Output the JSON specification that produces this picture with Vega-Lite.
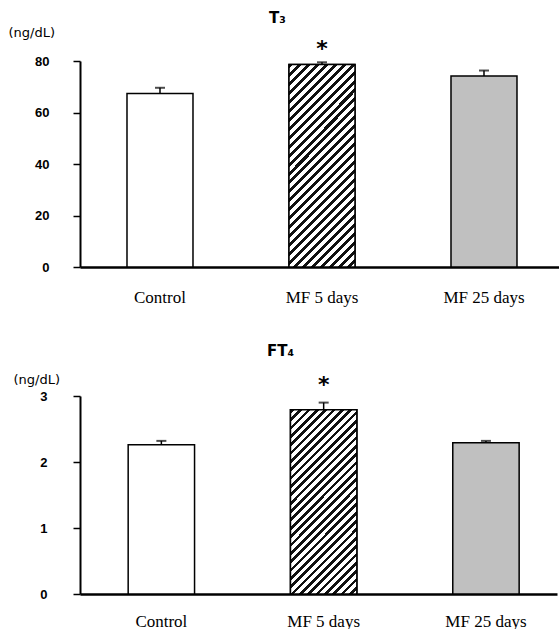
{
  "$schema": "https://vega.github.io/schema/vega-lite/v6.json",
  "padding": {"left": 8, "top": 11, "right": 0, "bottom": 0},
  "background": "white",
  "config": {"view": {"stroke": null}, "axis": {"grid": false}},
  "bounds": "flush",
  "spacing": 129,
  "vconcat": [
    {
      "width": 479,
      "height": 206,
      "title": {"text": "T₃", "font": "DejaVu Sans", "fontSize": 15, "fontWeight": "bold", "anchor": "middle", "dx": -42, "offset": 0, "color": "black"},
      "data": {"values": [
        {"group": "Control", "mean": 67.4, "upper": 69.6, "sig": ""},
        {"group": "MF 5 days", "mean": 78.6, "upper": 79.5, "sig": "*"},
        {"group": "MF 25 days", "mean": 74.2, "upper": 76.3, "sig": ""}
      ]},
      "encoding": {
        "x": {"field": "group", "type": "nominal", "sort": null,
          "scale": {"paddingInner": 0.5926, "paddingOuter": 0.2747, "align": 0.528},
          "axis": {"title": null, "labelAngle": 0, "ticks": false, "domainWidth": 2.5, "domainColor": "black", "labelFont": "Liberation Serif", "labelFontSize": 17, "labelColor": "black", "labelPadding": 22}}
      },
      "layer": [
        {
          "mark": {"type": "bar", "stroke": "black", "strokeWidth": 1.5},
          "encoding": {
            "y": {"field": "mean", "type": "quantitative", "scale": {"domain": [0, 80], "nice": false},
              "axis": {"title": "(ng/dL)", "titleAngle": 0, "titleAlign": "left", "titleBaseline": "middle", "titleX": -72, "titleY": -29, "titleFont": "DejaVu Sans", "titleFontSize": 13, "titleFontWeight": "normal", "titleColor": "black", "values": [0, 20, 40, 60, 80], "format": "d", "tickSize": 7, "tickWidth": 1.5, "tickColor": "black", "domainColor": "black", "domainWidth": 2, "labelFont": "Liberation Sans", "labelFontSize": 13, "labelFontWeight": "bold", "labelPadding": 24, "labelColor": "black"}},
            "fill": {"field": "group", "type": "nominal", "scale": {"domain": ["Control", "MF 5 days", "MF 25 days"], "range": ["white", "white", "#c0c0c0"]}, "legend": null}
          }
        },
        {
          "transform": [{"filter": "datum.group == 'MF 5 days'"}],
          "mark": {"type": "bar", "stroke": "black", "strokeWidth": 1.5,
            "fill": {"gradient": "linear", "x1": 0, "y1": 0, "x2": 0.3917, "y2": 1.1988, "stops": [
              {"offset": 0, "color": "#111"}, {"offset": 0.015, "color": "#111"}, {"offset": 0.015, "color": "white"}, {"offset": 0.0333, "color": "white"},
              {"offset": 0.0333, "color": "#111"}, {"offset": 0.0483, "color": "#111"}, {"offset": 0.0483, "color": "white"}, {"offset": 0.0667, "color": "white"},
              {"offset": 0.0667, "color": "#111"}, {"offset": 0.0817, "color": "#111"}, {"offset": 0.0817, "color": "white"}, {"offset": 0.1, "color": "white"},
              {"offset": 0.1, "color": "#111"}, {"offset": 0.115, "color": "#111"}, {"offset": 0.115, "color": "white"}, {"offset": 0.1333, "color": "white"},
              {"offset": 0.1333, "color": "#111"}, {"offset": 0.1483, "color": "#111"}, {"offset": 0.1483, "color": "white"}, {"offset": 0.1667, "color": "white"},
              {"offset": 0.1667, "color": "#111"}, {"offset": 0.1817, "color": "#111"}, {"offset": 0.1817, "color": "white"}, {"offset": 0.2, "color": "white"},
              {"offset": 0.2, "color": "#111"}, {"offset": 0.215, "color": "#111"}, {"offset": 0.215, "color": "white"}, {"offset": 0.2333, "color": "white"},
              {"offset": 0.2333, "color": "#111"}, {"offset": 0.2483, "color": "#111"}, {"offset": 0.2483, "color": "white"}, {"offset": 0.2667, "color": "white"},
              {"offset": 0.2667, "color": "#111"}, {"offset": 0.2817, "color": "#111"}, {"offset": 0.2817, "color": "white"}, {"offset": 0.3, "color": "white"},
              {"offset": 0.3, "color": "#111"}, {"offset": 0.315, "color": "#111"}, {"offset": 0.315, "color": "white"}, {"offset": 0.3333, "color": "white"},
              {"offset": 0.3333, "color": "#111"}, {"offset": 0.3483, "color": "#111"}, {"offset": 0.3483, "color": "white"}, {"offset": 0.3667, "color": "white"},
              {"offset": 0.3667, "color": "#111"}, {"offset": 0.3817, "color": "#111"}, {"offset": 0.3817, "color": "white"}, {"offset": 0.4, "color": "white"},
              {"offset": 0.4, "color": "#111"}, {"offset": 0.415, "color": "#111"}, {"offset": 0.415, "color": "white"}, {"offset": 0.4333, "color": "white"},
              {"offset": 0.4333, "color": "#111"}, {"offset": 0.4483, "color": "#111"}, {"offset": 0.4483, "color": "white"}, {"offset": 0.4667, "color": "white"},
              {"offset": 0.4667, "color": "#111"}, {"offset": 0.4817, "color": "#111"}, {"offset": 0.4817, "color": "white"}, {"offset": 0.5, "color": "white"},
              {"offset": 0.5, "color": "#111"}, {"offset": 0.515, "color": "#111"}, {"offset": 0.515, "color": "white"}, {"offset": 0.5333, "color": "white"},
              {"offset": 0.5333, "color": "#111"}, {"offset": 0.5483, "color": "#111"}, {"offset": 0.5483, "color": "white"}, {"offset": 0.5667, "color": "white"},
              {"offset": 0.5667, "color": "#111"}, {"offset": 0.5817, "color": "#111"}, {"offset": 0.5817, "color": "white"}, {"offset": 0.6, "color": "white"},
              {"offset": 0.6, "color": "#111"}, {"offset": 0.615, "color": "#111"}, {"offset": 0.615, "color": "white"}, {"offset": 0.6333, "color": "white"},
              {"offset": 0.6333, "color": "#111"}, {"offset": 0.6483, "color": "#111"}, {"offset": 0.6483, "color": "white"}, {"offset": 0.6667, "color": "white"},
              {"offset": 0.6667, "color": "#111"}, {"offset": 0.6817, "color": "#111"}, {"offset": 0.6817, "color": "white"}, {"offset": 0.7, "color": "white"},
              {"offset": 0.7, "color": "#111"}, {"offset": 0.715, "color": "#111"}, {"offset": 0.715, "color": "white"}, {"offset": 0.7333, "color": "white"},
              {"offset": 0.7333, "color": "#111"}, {"offset": 0.7483, "color": "#111"}, {"offset": 0.7483, "color": "white"}, {"offset": 0.7667, "color": "white"},
              {"offset": 0.7667, "color": "#111"}, {"offset": 0.7817, "color": "#111"}, {"offset": 0.7817, "color": "white"}, {"offset": 0.8, "color": "white"},
              {"offset": 0.8, "color": "#111"}, {"offset": 0.815, "color": "#111"}, {"offset": 0.815, "color": "white"}, {"offset": 0.8333, "color": "white"},
              {"offset": 0.8333, "color": "#111"}, {"offset": 0.8483, "color": "#111"}, {"offset": 0.8483, "color": "white"}, {"offset": 0.8667, "color": "white"},
              {"offset": 0.8667, "color": "#111"}, {"offset": 0.8817, "color": "#111"}, {"offset": 0.8817, "color": "white"}, {"offset": 0.9, "color": "white"},
              {"offset": 0.9, "color": "#111"}, {"offset": 0.915, "color": "#111"}, {"offset": 0.915, "color": "white"}, {"offset": 0.9333, "color": "white"},
              {"offset": 0.9333, "color": "#111"}, {"offset": 0.9483, "color": "#111"}, {"offset": 0.9483, "color": "white"}, {"offset": 0.9667, "color": "white"},
              {"offset": 0.9667, "color": "#111"}, {"offset": 0.9817, "color": "#111"}, {"offset": 0.9817, "color": "white"}, {"offset": 1, "color": "white"}
            ]}},
          "encoding": {"y": {"field": "mean", "type": "quantitative"}}
        },
        {
          "mark": {"type": "rule", "color": "black", "strokeWidth": 1.5},
          "encoding": {"y": {"field": "mean", "type": "quantitative"}, "y2": {"field": "upper"}}
        },
        {
          "mark": {"type": "tick", "color": "black", "size": 10, "thickness": 2},
          "encoding": {"y": {"field": "upper", "type": "quantitative"}}
        },
        {
          "transform": [{"filter": "datum.sig != ''"}],
          "mark": {"type": "text", "font": "DejaVu Sans", "fontSize": 22, "fontWeight": "bold", "baseline": "middle", "dy": -13, "color": "black"},
          "encoding": {"y": {"field": "upper", "type": "quantitative"}, "text": {"field": "sig"}}
        }
      ]
    },
    {
      "width": 477,
      "height": 198,
      "title": {"text": "FT₄", "font": "DejaVu Sans", "fontSize": 15, "fontWeight": "bold", "anchor": "middle", "dx": -38, "offset": 14, "color": "black"},
      "data": {"values": [
        {"group": "Control", "mean": 2.26, "upper": 2.32, "sig": ""},
        {"group": "MF 5 days", "mean": 2.79, "upper": 2.9, "sig": "*"},
        {"group": "MF 25 days", "mean": 2.29, "upper": 2.32, "sig": ""}
      ]},
      "encoding": {
        "x": {"field": "group", "type": "nominal", "sort": null,
          "scale": {"paddingInner": 0.591, "paddingOuter": 0.265, "align": 0.56},
          "axis": {"title": null, "labelAngle": 0, "ticks": false, "domainWidth": 2.5, "domainColor": "black", "labelFont": "Liberation Serif", "labelFontSize": 17, "labelColor": "black", "labelPadding": 19}}
      },
      "layer": [
        {
          "mark": {"type": "bar", "stroke": "black", "strokeWidth": 1.5},
          "encoding": {
            "y": {"field": "mean", "type": "quantitative", "scale": {"domain": [0, 3], "nice": false},
              "axis": {"title": "(ng/dL)", "titleAngle": 0, "titleAlign": "left", "titleBaseline": "middle", "titleX": -67, "titleY": -17, "titleFont": "DejaVu Sans", "titleFontSize": 13, "titleFontWeight": "normal", "titleColor": "black", "values": [0, 1, 2, 3], "format": "d", "tickSize": 7, "tickWidth": 1.5, "tickColor": "black", "domainColor": "black", "domainWidth": 2, "labelFont": "Liberation Sans", "labelFontSize": 13, "labelFontWeight": "bold", "labelPadding": 26, "labelColor": "black"}},
            "fill": {"field": "group", "type": "nominal", "scale": {"domain": ["Control", "MF 5 days", "MF 25 days"], "range": ["white", "white", "#c0c0c0"]}, "legend": null}
          }
        },
        {
          "transform": [{"filter": "datum.group == 'MF 5 days'"}],
          "mark": {"type": "bar", "stroke": "black", "strokeWidth": 1.5,
            "fill": {"gradient": "linear", "x1": 0, "y1": 0, "x2": 0.4352, "y2": 1.2041, "stops": [
              {"offset": 0, "color": "#111"}, {"offset": 0.015, "color": "#111"}, {"offset": 0.015, "color": "white"}, {"offset": 0.0333, "color": "white"},
              {"offset": 0.0333, "color": "#111"}, {"offset": 0.0483, "color": "#111"}, {"offset": 0.0483, "color": "white"}, {"offset": 0.0667, "color": "white"},
              {"offset": 0.0667, "color": "#111"}, {"offset": 0.0817, "color": "#111"}, {"offset": 0.0817, "color": "white"}, {"offset": 0.1, "color": "white"},
              {"offset": 0.1, "color": "#111"}, {"offset": 0.115, "color": "#111"}, {"offset": 0.115, "color": "white"}, {"offset": 0.1333, "color": "white"},
              {"offset": 0.1333, "color": "#111"}, {"offset": 0.1483, "color": "#111"}, {"offset": 0.1483, "color": "white"}, {"offset": 0.1667, "color": "white"},
              {"offset": 0.1667, "color": "#111"}, {"offset": 0.1817, "color": "#111"}, {"offset": 0.1817, "color": "white"}, {"offset": 0.2, "color": "white"},
              {"offset": 0.2, "color": "#111"}, {"offset": 0.215, "color": "#111"}, {"offset": 0.215, "color": "white"}, {"offset": 0.2333, "color": "white"},
              {"offset": 0.2333, "color": "#111"}, {"offset": 0.2483, "color": "#111"}, {"offset": 0.2483, "color": "white"}, {"offset": 0.2667, "color": "white"},
              {"offset": 0.2667, "color": "#111"}, {"offset": 0.2817, "color": "#111"}, {"offset": 0.2817, "color": "white"}, {"offset": 0.3, "color": "white"},
              {"offset": 0.3, "color": "#111"}, {"offset": 0.315, "color": "#111"}, {"offset": 0.315, "color": "white"}, {"offset": 0.3333, "color": "white"},
              {"offset": 0.3333, "color": "#111"}, {"offset": 0.3483, "color": "#111"}, {"offset": 0.3483, "color": "white"}, {"offset": 0.3667, "color": "white"},
              {"offset": 0.3667, "color": "#111"}, {"offset": 0.3817, "color": "#111"}, {"offset": 0.3817, "color": "white"}, {"offset": 0.4, "color": "white"},
              {"offset": 0.4, "color": "#111"}, {"offset": 0.415, "color": "#111"}, {"offset": 0.415, "color": "white"}, {"offset": 0.4333, "color": "white"},
              {"offset": 0.4333, "color": "#111"}, {"offset": 0.4483, "color": "#111"}, {"offset": 0.4483, "color": "white"}, {"offset": 0.4667, "color": "white"},
              {"offset": 0.4667, "color": "#111"}, {"offset": 0.4817, "color": "#111"}, {"offset": 0.4817, "color": "white"}, {"offset": 0.5, "color": "white"},
              {"offset": 0.5, "color": "#111"}, {"offset": 0.515, "color": "#111"}, {"offset": 0.515, "color": "white"}, {"offset": 0.5333, "color": "white"},
              {"offset": 0.5333, "color": "#111"}, {"offset": 0.5483, "color": "#111"}, {"offset": 0.5483, "color": "white"}, {"offset": 0.5667, "color": "white"},
              {"offset": 0.5667, "color": "#111"}, {"offset": 0.5817, "color": "#111"}, {"offset": 0.5817, "color": "white"}, {"offset": 0.6, "color": "white"},
              {"offset": 0.6, "color": "#111"}, {"offset": 0.615, "color": "#111"}, {"offset": 0.615, "color": "white"}, {"offset": 0.6333, "color": "white"},
              {"offset": 0.6333, "color": "#111"}, {"offset": 0.6483, "color": "#111"}, {"offset": 0.6483, "color": "white"}, {"offset": 0.6667, "color": "white"},
              {"offset": 0.6667, "color": "#111"}, {"offset": 0.6817, "color": "#111"}, {"offset": 0.6817, "color": "white"}, {"offset": 0.7, "color": "white"},
              {"offset": 0.7, "color": "#111"}, {"offset": 0.715, "color": "#111"}, {"offset": 0.715, "color": "white"}, {"offset": 0.7333, "color": "white"},
              {"offset": 0.7333, "color": "#111"}, {"offset": 0.7483, "color": "#111"}, {"offset": 0.7483, "color": "white"}, {"offset": 0.7667, "color": "white"},
              {"offset": 0.7667, "color": "#111"}, {"offset": 0.7817, "color": "#111"}, {"offset": 0.7817, "color": "white"}, {"offset": 0.8, "color": "white"},
              {"offset": 0.8, "color": "#111"}, {"offset": 0.815, "color": "#111"}, {"offset": 0.815, "color": "white"}, {"offset": 0.8333, "color": "white"},
              {"offset": 0.8333, "color": "#111"}, {"offset": 0.8483, "color": "#111"}, {"offset": 0.8483, "color": "white"}, {"offset": 0.8667, "color": "white"},
              {"offset": 0.8667, "color": "#111"}, {"offset": 0.8817, "color": "#111"}, {"offset": 0.8817, "color": "white"}, {"offset": 0.9, "color": "white"},
              {"offset": 0.9, "color": "#111"}, {"offset": 0.915, "color": "#111"}, {"offset": 0.915, "color": "white"}, {"offset": 0.9333, "color": "white"},
              {"offset": 0.9333, "color": "#111"}, {"offset": 0.9483, "color": "#111"}, {"offset": 0.9483, "color": "white"}, {"offset": 0.9667, "color": "white"},
              {"offset": 0.9667, "color": "#111"}, {"offset": 0.9817, "color": "#111"}, {"offset": 0.9817, "color": "white"}, {"offset": 1, "color": "white"}
            ]}},
          "encoding": {"y": {"field": "mean", "type": "quantitative"}}
        },
        {
          "mark": {"type": "rule", "color": "black", "strokeWidth": 1.5},
          "encoding": {"y": {"field": "mean", "type": "quantitative"}, "y2": {"field": "upper"}}
        },
        {
          "mark": {"type": "tick", "color": "black", "size": 10, "thickness": 2},
          "encoding": {"y": {"field": "upper", "type": "quantitative"}}
        },
        {
          "transform": [{"filter": "datum.sig != ''"}],
          "mark": {"type": "text", "font": "DejaVu Sans", "fontSize": 22, "fontWeight": "bold", "baseline": "middle", "dy": -18, "color": "black"},
          "encoding": {"y": {"field": "upper", "type": "quantitative"}, "text": {"field": "sig"}}
        }
      ]
    }
  ]
}
